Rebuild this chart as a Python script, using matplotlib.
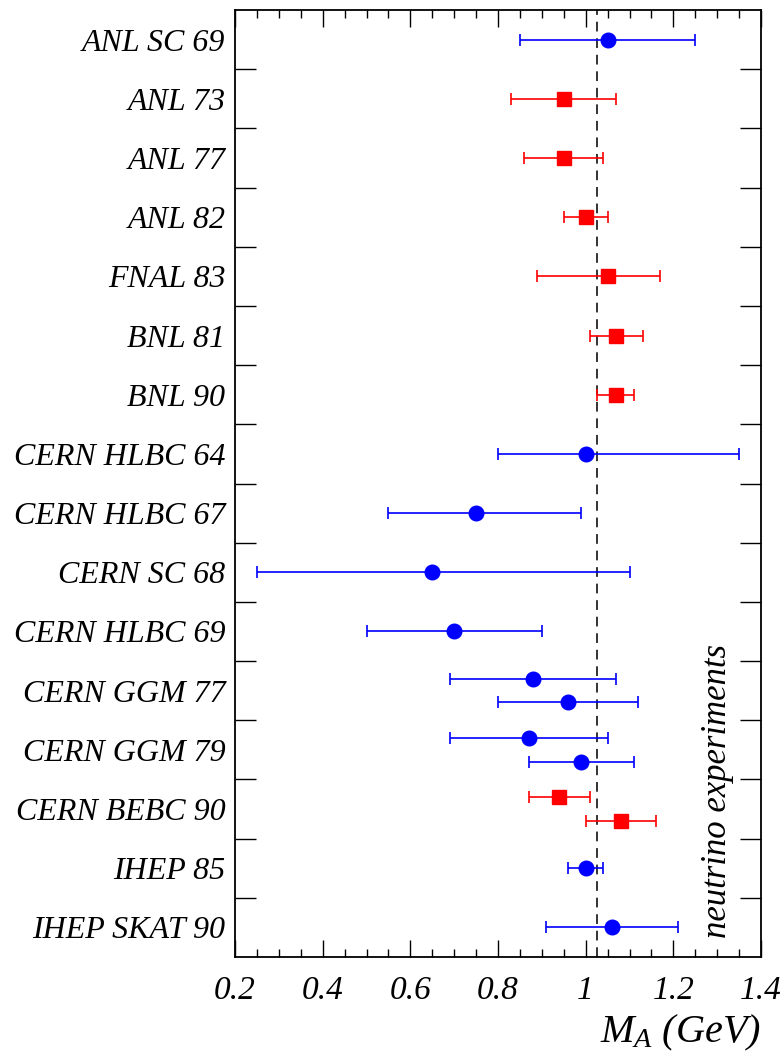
import numpy as np
import matplotlib
matplotlib.use('Agg')
import matplotlib.pyplot as plt
from matplotlib.ticker import MultipleLocator, FixedLocator

plt.rcParams['font.family'] = 'Liberation Serif'
plt.rcParams['font.style'] = 'italic'
plt.rcParams['mathtext.fontset'] = 'custom'
plt.rcParams['mathtext.it'] = 'Liberation Serif:italic'
plt.rcParams['mathtext.rm'] = 'Liberation Serif:italic'

# experiments, top to bottom
experiments = ['ANL SC 69', 'ANL 73', 'ANL 77', 'ANL 82', 'FNAL 83', 'BNL 81',
               'BNL 90', 'CERN HLBC 64', 'CERN HLBC 67', 'CERN SC 68',
               'CERN HLBC 69', 'CERN GGM 77', 'CERN GGM 79', 'CERN BEBC 90',
               'IHEP 85', 'IHEP SKAT 90']

# one entry per measurement
meas_row = [0, 1, 2, 3, 4, 5, 6, 7, 8, 9, 10, 11, 11, 12, 12, 13, 13, 14, 15]
m_a = [1.05, 0.95, 0.95, 1.00, 1.05, 1.07, 1.07, 1.00, 0.75, 0.65,
       0.70, 0.88, 0.96, 0.87, 0.99, 0.94, 1.08, 1.00, 1.06]
err_lo = [0.20, 0.12, 0.09, 0.05, 0.16, 0.06, 0.045, 0.20, 0.20, 0.40,
          0.20, 0.19, 0.16, 0.18, 0.12, 0.07, 0.08, 0.04, 0.15]
err_hi = [0.20, 0.12, 0.09, 0.05, 0.12, 0.06, 0.04, 0.35, 0.24, 0.45,
          0.20, 0.19, 0.16, 0.18, 0.12, 0.07, 0.08, 0.04, 0.15]
kind = ['c', 's', 's', 's', 's', 's', 's', 'c', 'c', 'c',
        'c', 'c', 'c', 'c', 'c', 's', 's', 'c', 'c']

WORLD_AVG = 1.026

fig = plt.figure(figsize=(7.83, 10.54), dpi=100)
ax = fig.add_axes([235/783, 1 - 957/1054, (761-235)/783, (957-10)/1054])

n_rows = len(experiments)
# y position: row centre, split rows with two measurements
ypos = []
for i, r in enumerate(meas_row):
    cnt = meas_row.count(r)
    if cnt == 1:
        ypos.append(r + 0.5)
    else:
        k = meas_row[:i].count(r)
        ypos.append(r + 0.5 + (-0.2 if k == 0 else 0.2))

style = {'c': dict(marker='o', color='blue', ms=10.5, elw=1.2),
         's': dict(marker='s', color='red', ms=10, elw=1.2)}
for x, y, lo, hi, k in zip(m_a, ypos, err_lo, err_hi, kind):
    st = style[k]
    ax.errorbar([x], [y], xerr=[[lo], [hi]], fmt=st['marker'], color=st['color'],
                ms=st['ms'], elinewidth=st['elw'], capsize=4.5, capthick=1.2,
                mec=st['color'], zorder=3)

ax.axvline(WORLD_AVG, color='#333333', lw=1.4, ls=(0, (5, 3.5)), zorder=2)

ax.set_xlim(0.2, 1.4)
ax.set_ylim(n_rows, 0)

ax.xaxis.set_major_locator(FixedLocator([0.2, 0.4, 0.6, 0.8, 1.0, 1.2, 1.4]))
ax.set_xticklabels(['0.2', '0.4', '0.6', '0.8', '1', '1.2', '1.4'])
ax.xaxis.set_minor_locator(MultipleLocator(0.05))
ax.tick_params(axis='x', which='major', direction='in', top=True, bottom=True,
               length=12.5, width=1, labelsize=24, pad=13)
ax.tick_params(axis='x', which='minor', direction='in', top=True, bottom=True,
               length=6, width=1)

ax.set_yticks(np.arange(1, n_rows))
ax.set_yticklabels([])
ax.set_yticks(np.arange(n_rows) + 0.5, minor=True)
ax.set_yticklabels(experiments, minor=True)
ax.tick_params(axis='y', which='major', direction='in', left=True, right=True,
               length=15, width=1)
ax.tick_params(axis='y', which='minor', length=0, labelsize=23, pad=7)

for sp in ax.spines.values():
    sp.set_linewidth(1.3)

ax.text(0.918, 0.02, 'neutrino experiments', transform=ax.transAxes,
        rotation=90, ha='center', va='bottom', fontsize=25)

fig.text(761/783, 1 - 1042/1054, r'$M_A\ (GeV)$', ha='right', va='baseline',
         fontsize=29)

fig.savefig('out.png', dpi=100)
